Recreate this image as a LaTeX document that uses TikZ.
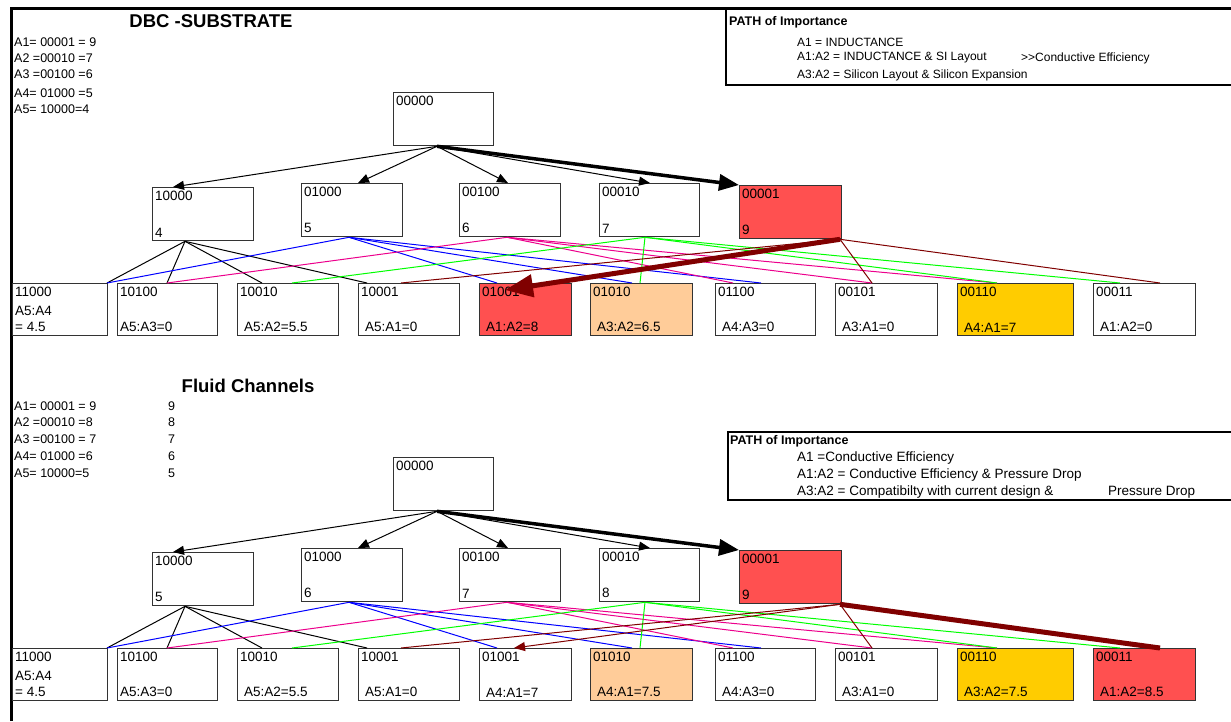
\documentclass[tikz,border=0pt]{standalone}
\usepackage{fontspec}
\setmainfont{Liberation Sans}
\usetikzlibrary{arrows.meta,calc}

\definecolor{cellred}{RGB}{255,80,80}
\definecolor{cellpeach}{RGB}{255,204,153}
\definecolor{cellgold}{RGB}{255,204,0}
\definecolor{pathred}{RGB}{128,0,0}

\tikzset{
  cell/.style={draw=black!80, line width=1.3pt, anchor=north west, inner sep=0pt},
  tag/.style={anchor=north west, align=left, inner xsep=3pt, inner ysep=4pt,
    font=\fontsize{13.5}{16.5}\selectfont},
  key/.style={anchor=west, inner sep=0pt, font=\fontsize{12.5}{14}\selectfont},
  leg/.style={anchor=west, inner sep=0pt, font=\fontsize{12}{14}\selectfont},
  legb/.style={anchor=west, inner sep=0pt, font=\fontsize{13.5}{15}\selectfont},
  head/.style={anchor=west, inner sep=0pt, font=\bfseries\fontsize{12.5}{14}\selectfont},
  title/.style={inner sep=0pt, font=\bfseries\fontsize{18.5}{20}\selectfont},
  link/.style={line width=1pt},
  tip/.style={-{Triangle[length=11pt,width=9pt]}}
}

\begin{document}
\begin{tikzpicture}[x=1pt,y=-1pt]
\useasboundingbox (0,0) rectangle (1231,721);

% frame and the two legend boxes
\draw[line width=3pt] (11,721) -- (11,8) -- (1240,8);
\draw[line width=2.5pt] (726,8) -- (726,85) -- (1240,85);
\draw[line width=2.5pt] (1240,432) -- (728,432) -- (728,500) -- (1240,500);

% titles
\node[title] (ttitle) at (211,21) {DBC -SUBSTRATE};
\node[title] (btitle) at (248,386) {Fluid Channels};

% weights
\foreach \y/\s [count=\i] in {42/A1= 00001 = 9, 58/A2 =00010 =7, 74/A3 =00100 =6,
    93/A4= 01000 =5, 109/A5= 10000=4}
  \node[key] (tkey\i) at (14,\y) {\s};
\foreach \y/\s/\k [count=\i] in {406/A1= 00001 = 9/9, 422/A2 =00010 =8/8,
    439/A3 =00100 = 7/7, 456/A4= 01000 =6/6, 473/A5= 10000=5/5}{
  \node[key] (bkey\i) at (14,\y) {\s};
  \node[key] (bnum\i) at (168,\y) {\k};
}

% legends
\node[head] (tleg0) at (729,22) {PATH of Importance};
\node[leg] (tleg1) at (797,42) {A1 = INDUCTANCE};
\node[leg] (tleg2) at (797,58) {A1:A2 = INDUCTANCE \& SI Layout};
\node[leg] (tleg2b) at (1021,58) {>\kern0pt>Conductive Efficiency};
\node[leg] (tleg3) at (797,75) {A3:A2 = Silicon Layout \& Silicon Expansion};

\node[head] (bleg0) at (730,441) {PATH of Importance};
\node[legb] (bleg1) at (797,458) {A1 =Conductive Efficiency};
\node[legb] (bleg2) at (797,475) {A1:A2 = Conductive Efficiency \& Pressure Drop};
\node[legb] (bleg3) at (797,492) {A3:A2 = Compatibilty with current design \&};
\node[legb] (bleg3b) at (1108,492) {Pressure Drop};

% both trees
\foreach \tr/\dy in {t/0,b/365}{
  \node[cell, minimum width=100, minimum height=53] (\tr00000) at (393,92+\dy) {};
  \node[tag] (\tr00000-c) at (\tr00000.north west) {00000};
  % level 1
  \foreach \n/\x/\y/\w/\va/\vb/\f in {10000/152/187/101/4/5/white,
      01000/301/183/101/5/6/white, 00100/459/183/101/6/7/white,
      00010/599/183/100/7/8/white, 00001/739/185/102/9/9/cellred}{
    \ifnum\dy=0 \let\vv\va \else \let\vv\vb \fi
    \node[cell, fill=\f, minimum width=\w, minimum height=53] (\tr\n) at (\x,\y+\dy) {};
    \node[tag] (\tr\n-c) at (\tr\n.north west) {\n};
    \node[tag, anchor=south west] (\tr\n-v) at (\tr\n.south west) {\vv};
  }
  % level 2
  \foreach \n/\x/\w/\dx/\fa/\fb/\va/\vb in {
      11000/12/95/0/white/white/{A5:A4\\= 4.5}/{A5:A4\\= 4.5},
      10100/117/100/0/white/white/A5:A3=0/A5:A3=0,
      10010/237/101/4/white/white/A5:A2=5.5/A5:A2=5.5,
      10001/358/101/4/white/white/A5:A1=0/A5:A1=0,
      01001/479/92/4/cellred/white/A1:A2=8/A4:A1=7,
      01010/590/102/4/cellpeach/cellpeach/A3:A2=6.5/A4:A1=7.5,
      01100/715/100/4/white/white/A4:A3=0/A4:A3=0,
      00101/835/102/4/white/white/A3:A1=0/A3:A1=0,
      00110/957/116/4/cellgold/cellgold/A4:A1=7/A3:A2=7.5,
      00011/1093/102/4/white/cellred/A1:A2=0/A1:A2=8.5}{
    \ifnum\dy=0 \let\f\fa \let\vv\va \else \let\f\fb \let\vv\vb \fi
    \node[cell, fill=\f, minimum width=\w, minimum height=52] (\tr\n) at (\x,283+\dy) {};
    \node[tag] (\tr\n-c) at (\tr\n.north west) {\n};
    \node[tag, anchor=south west, xshift=\dx pt] (\tr\n-v) at (\tr\n.south west) {\vv};
  }
  % root to level 1
  \coordinate (\tr00000-o) at ([xshift=44pt]\tr00000.south west);
  \foreach \n/\s in {10000/21, 01000/57, 00100/49, 00010/51}
    \draw[link, tip] (\tr00000-o) -- ([xshift=\s pt]\tr\n.north west);
  \draw[line width=3.5pt, -{Triangle[length=20pt,width=16pt]}] (\tr00000-o) -- (\tr00001.north west);
  % level 1 to level 2
  \foreach \p/\s in {10000/33, 01000/48, 00100/48, 00010/46, 00001/101}
    \coordinate (\tr\p-o) at ([xshift=\s pt]\tr\p.south west);
  \foreach \p/\col/\n/\s in {
      10000/black/11000/95, 10000/black/10100/50, 10000/black/10010/25, 10000/black/10001/9,
      01000/blue/11000/95, 01000/blue/01001/18, 01000/blue/01010/42, 01000/blue/01100/46,
      00100/magenta/10100/50, 00100/magenta/01100/18, 00100/magenta/00101/37, 00100/magenta/00110/40,
      00010/green/10010/55, 00010/green/01010/50, 00010/green/00110/40, 00010/green/00011/27,
      00001/pathred/10001/43, 00001/pathred/00101/37}
    \draw[link, draw=\col] (\tr\p-o) -- ([xshift=\s pt]\tr\n.north west);
}

% the chosen paths
\draw[line width=5pt, pathred, -{Triangle[length=28pt,width=22pt]}]
  (t00001-o) -- ([xshift=26pt,yshift=-7pt]t01001.north west);
\draw[link, pathred] (t00001-o) -- ([xshift=67pt]t00011.north west);
\draw[link, pathred, tip] (b00001-o) -- ([xshift=35pt]b01001.north west);
\draw[line width=5pt, pathred] (b00001-o) -- ([xshift=67pt]b00011.north west);
\end{tikzpicture}
\end{document}
